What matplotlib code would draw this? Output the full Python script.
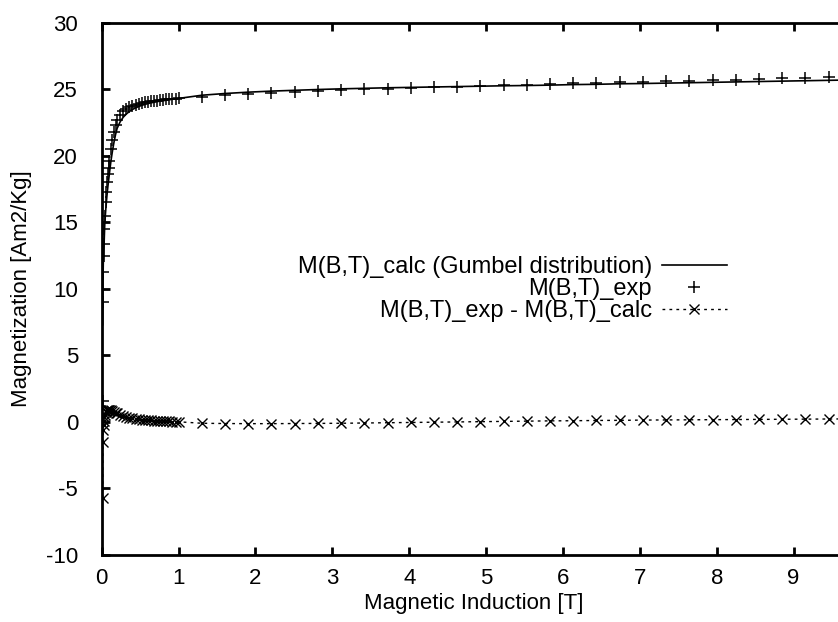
"""
magnetization vs induction: experiment, Gumbel fit and residual
"""

import matplotlib.pyplot as plt
import numpy as np

plt.rcParams["font.family"] = ["Liberation Sans", "DejaVu Sans"]
plt.rcParams["axes.unicode_minus"] = False

# magnetic induction [T]
b_field = [
    0.012, 0.016, 0.02, 0.025, 0.03, 0.035, 0.04, 0.05, 0.06, 0.07, 0.08, 0.09,
    0.10, 0.12, 0.14, 0.16, 0.18, 0.20, 0.24, 0.28, 0.32, 0.36, 0.40, 0.44,
    0.48, 0.52, 0.56, 0.60, 0.64, 0.68, 0.72, 0.76, 0.80, 0.84, 0.88, 0.92,
    0.96, 1.00, 1.302, 1.604, 1.906, 2.208, 2.51, 2.812, 3.114, 3.416, 3.718,
    4.02, 4.322, 4.624, 4.926, 5.228, 5.53, 5.832, 6.134, 6.436, 6.738, 7.04,
    7.342, 7.644, 7.946, 8.248, 8.55, 8.852, 9.154, 9.456, 9.758,
]

# measured magnetization [Am2/Kg]
m_exp = [
    1.6, 9.0, 11.3, 12.5, 13.4, 14.5, 15.5, 16.5, 17.3, 18.0, 18.6, 19.1,
    19.6, 20.5, 21.2, 21.8, 22.3, 22.7, 23.1, 23.35, 23.52, 23.65, 23.75, 23.83,
    23.9, 23.96, 24.01, 24.05, 24.09, 24.12, 24.15, 24.18, 24.2, 24.23, 24.25, 24.28,
    24.3, 24.32, 24.45, 24.56, 24.65, 24.73, 24.8, 24.87, 24.93, 24.99, 25.05,
    25.1, 25.15, 25.2, 25.25, 25.3, 25.34, 25.39, 25.44, 25.48, 25.53, 25.57,
    25.61, 25.65, 25.69, 25.73, 25.77, 25.81, 25.85, 25.89, 25.93,
]

# m_exp - m_calc
residual = [
    -5.7, -1.5, -0.6, -0.2, 0.1, 0.35, 0.55, 0.72, 0.8, 0.86, 0.9, 0.92,
    0.92, 0.88, 0.82, 0.76, 0.7, 0.64, 0.54, 0.45, 0.38, 0.32, 0.27, 0.23,
    0.2, 0.17, 0.15, 0.13, 0.11, 0.1, 0.08, 0.07, 0.06, 0.05, 0.04, 0.03,
    0.02, 0.01, -0.1, -0.12, -0.13, -0.13, -0.12, -0.11, -0.1, -0.08, -0.06,
    -0.04, -0.02, 0.0, 0.02, 0.04, 0.06, 0.08, 0.09, 0.11, 0.12, 0.14,
    0.15, 0.16, 0.17, 0.18, 0.19, 0.2, 0.21, 0.22, 0.23,
]

x_ticks = [0, 1, 2, 3, 4, 5, 6, 7, 8, 9]
y_ticks = [-10, -5, 0, 5, 10, 15, 20, 25, 30]

b = np.array(b_field)
m_calc = np.array(m_exp) - np.array(residual)

fig = plt.figure(figsize=(8.38, 6.22), dpi=100)
ax = fig.add_axes([0.1214, 0.1077, 0.888, 0.8558])

ax.plot(b, m_calc, color="black", linewidth=1.2, label="M(B,T)_calc (Gumbel distribution)")
ax.plot(b, m_exp, linestyle="none", marker="+", markersize=8, markeredgewidth=1.1,
        color="black", label="M(B,T)_exp")
ax.plot(b, residual, color="black", linestyle=(0, (2, 3)), linewidth=1.0,
        marker="x", markersize=7, markeredgewidth=1.0,
        label="M(B,T)_exp - M(B,T)_calc")

ax.set_xlim(0, 9.68)
ax.set_ylim(-10, 30)
ax.set_xticks(x_ticks)
ax.set_yticks(y_ticks)
ax.tick_params(direction="in", length=6, width=2, top=True, right=True, labelsize=16)
ax.tick_params(axis="x", pad=9)
ax.tick_params(axis="y", pad=17)
for spine in ax.spines.values():
    spine.set_linewidth(2)

ax.set_xlabel("Magnetic Induction [T]", fontsize=16, labelpad=3)
ax.set_ylabel("Magnetization [Am2/Kg]", fontsize=16, labelpad=10)

ax.legend(loc="center right", bbox_to_anchor=(0.84, 0.50), frameon=False,
          markerfirst=False, fontsize=17, handlelength=2.75, handletextpad=0.42,
          labelspacing=0.0, borderpad=0, borderaxespad=0, numpoints=1)

fig.savefig("out.png", dpi=100)
